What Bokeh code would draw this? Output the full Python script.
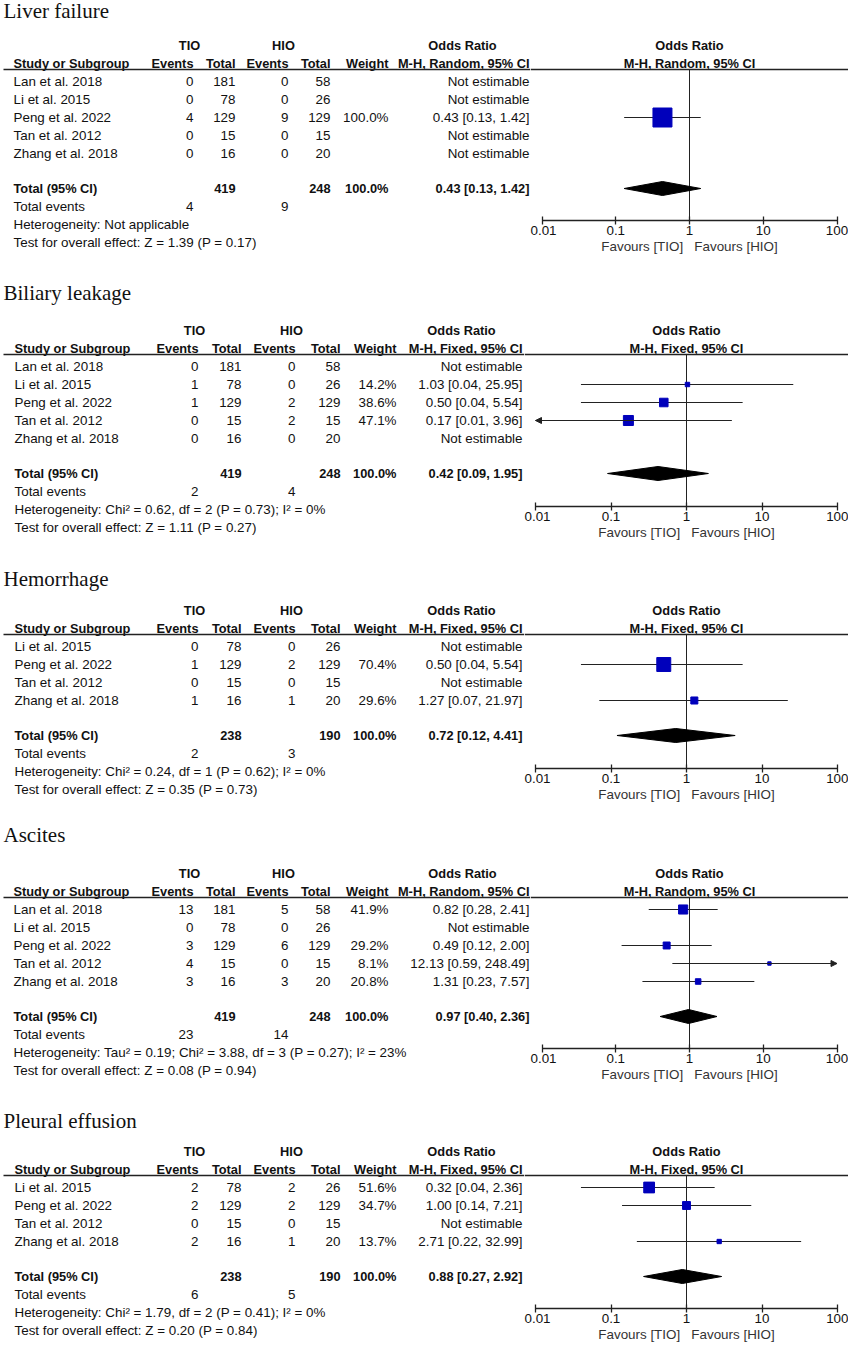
from bokeh.plotting import figure
from bokeh.models import Range1d, FixedTicker, CustomJSTickFormatter, Arrow, NormalHead
from bokeh.layouts import column, row
from bokeh.embed import file_html
from bokeh.resources import INLINE
from bokeh.core.properties import value

# ---------------- data ----------------
LF_TITLE = "Liver failure"
LF_METHOD = "M-H, Random, 95% CI"
LF_STUDIES = ["Lan et al. 2018", "Li et al. 2015", "Peng et al. 2022", "Tan et al. 2012", "Zhang et al. 2018"]
LF_TIO_EVENTS = [0, 0, 4, 0, 0]
LF_TIO_TOTAL = [181, 78, 129, 15, 16]
LF_HIO_EVENTS = [0, 0, 9, 0, 0]
LF_HIO_TOTAL = [58, 26, 129, 15, 20]
LF_WEIGHT = [None, None, 100.0, None, None]
LF_OR = [None, None, 0.43, None, None]
LF_LO = [None, None, 0.13, None, None]
LF_HI = [None, None, 1.42, None, None]
LF_SUM_TOTAL = [419, 248]
LF_SUM_EVENTS = [4, 9]
LF_POOLED = [0.43, 0.13, 1.42]
LF_HET = "Heterogeneity: Not applicable"
LF_TEST = "Test for overall effect: Z = 1.39 (P = 0.17)"

BL_TITLE = "Biliary leakage"
BL_METHOD = "M-H, Fixed, 95% CI"
BL_STUDIES = ["Lan et al. 2018", "Li et al. 2015", "Peng et al. 2022", "Tan et al. 2012", "Zhang et al. 2018"]
BL_TIO_EVENTS = [0, 1, 1, 0, 0]
BL_TIO_TOTAL = [181, 78, 129, 15, 16]
BL_HIO_EVENTS = [0, 0, 2, 2, 0]
BL_HIO_TOTAL = [58, 26, 129, 15, 20]
BL_WEIGHT = [None, 14.2, 38.6, 47.1, None]
BL_OR = [None, 1.03, 0.50, 0.17, None]
BL_LO = [None, 0.04, 0.04, 0.01, None]
BL_HI = [None, 25.95, 5.54, 3.96, None]
BL_SUM_TOTAL = [419, 248]
BL_SUM_EVENTS = [2, 4]
BL_POOLED = [0.42, 0.09, 1.95]
BL_HET = "Heterogeneity: Chi\u00b2 = 0.62, df = 2 (P = 0.73); I\u00b2 = 0%"
BL_TEST = "Test for overall effect: Z = 1.11 (P = 0.27)"

HM_TITLE = "Hemorrhage"
HM_METHOD = "M-H, Fixed, 95% CI"
HM_STUDIES = ["Li et al. 2015", "Peng et al. 2022", "Tan et al. 2012", "Zhang et al. 2018"]
HM_TIO_EVENTS = [0, 1, 0, 1]
HM_TIO_TOTAL = [78, 129, 15, 16]
HM_HIO_EVENTS = [0, 2, 0, 1]
HM_HIO_TOTAL = [26, 129, 15, 20]
HM_WEIGHT = [None, 70.4, None, 29.6]
HM_OR = [None, 0.50, None, 1.27]
HM_LO = [None, 0.04, None, 0.07]
HM_HI = [None, 5.54, None, 21.97]
HM_SUM_TOTAL = [238, 190]
HM_SUM_EVENTS = [2, 3]
HM_POOLED = [0.72, 0.12, 4.41]
HM_HET = "Heterogeneity: Chi\u00b2 = 0.24, df = 1 (P = 0.62); I\u00b2 = 0%"
HM_TEST = "Test for overall effect: Z = 0.35 (P = 0.73)"

AS_TITLE = "Ascites"
AS_METHOD = "M-H, Random, 95% CI"
AS_STUDIES = ["Lan et al. 2018", "Li et al. 2015", "Peng et al. 2022", "Tan et al. 2012", "Zhang et al. 2018"]
AS_TIO_EVENTS = [13, 0, 3, 4, 3]
AS_TIO_TOTAL = [181, 78, 129, 15, 16]
AS_HIO_EVENTS = [5, 0, 6, 0, 3]
AS_HIO_TOTAL = [58, 26, 129, 15, 20]
AS_WEIGHT = [41.9, None, 29.2, 8.1, 20.8]
AS_OR = [0.82, None, 0.49, 12.13, 1.31]
AS_LO = [0.28, None, 0.12, 0.59, 0.23]
AS_HI = [2.41, None, 2.00, 248.49, 7.57]
AS_SUM_TOTAL = [419, 248]
AS_SUM_EVENTS = [23, 14]
AS_POOLED = [0.97, 0.40, 2.36]
AS_HET = "Heterogeneity: Tau\u00b2 = 0.19; Chi\u00b2 = 3.88, df = 3 (P = 0.27); I\u00b2 = 23%"
AS_TEST = "Test for overall effect: Z = 0.08 (P = 0.94)"

PE_TITLE = "Pleural effusion"
PE_METHOD = "M-H, Fixed, 95% CI"
PE_STUDIES = ["Li et al. 2015", "Peng et al. 2022", "Tan et al. 2012", "Zhang et al. 2018"]
PE_TIO_EVENTS = [2, 2, 0, 2]
PE_TIO_TOTAL = [78, 129, 15, 16]
PE_HIO_EVENTS = [2, 2, 0, 1]
PE_HIO_TOTAL = [26, 129, 15, 20]
PE_WEIGHT = [51.6, 34.7, None, 13.7]
PE_OR = [0.32, 1.00, None, 2.71]
PE_LO = [0.04, 0.14, None, 0.22]
PE_HI = [2.36, 7.21, None, 32.99]
PE_SUM_TOTAL = [238, 190]
PE_SUM_EVENTS = [6, 5]
PE_POOLED = [0.88, 0.27, 2.92]
PE_HET = "Heterogeneity: Chi\u00b2 = 1.79, df = 2 (P = 0.41); I\u00b2 = 0%"
PE_TEST = "Test for overall effect: Z = 0.20 (P = 0.84)"

AXIS_TICKS = [0.01, 0.1, 1, 10, 100]
GROUP_1 = "TIO"
GROUP_2 = "HIO"
FAVOURS = "Favours [TIO]\u00a0\u00a0\u00a0Favours [HIO]"

PANELS = [
    dict(title=LF_TITLE, method=LF_METHOD, studies=LF_STUDIES, e1=LF_TIO_EVENTS, n1=LF_TIO_TOTAL,
         e2=LF_HIO_EVENTS, n2=LF_HIO_TOTAL, w=LF_WEIGHT, orr=LF_OR, lo=LF_LO, hi=LF_HI,
         tot=LF_SUM_TOTAL, ev=LF_SUM_EVENTS, pooled=LF_POOLED, het=LF_HET, test=LF_TEST, layout="random"),
    dict(title=BL_TITLE, method=BL_METHOD, studies=BL_STUDIES, e1=BL_TIO_EVENTS, n1=BL_TIO_TOTAL,
         e2=BL_HIO_EVENTS, n2=BL_HIO_TOTAL, w=BL_WEIGHT, orr=BL_OR, lo=BL_LO, hi=BL_HI,
         tot=BL_SUM_TOTAL, ev=BL_SUM_EVENTS, pooled=BL_POOLED, het=BL_HET, test=BL_TEST, layout="fixed"),
    dict(title=HM_TITLE, method=HM_METHOD, studies=HM_STUDIES, e1=HM_TIO_EVENTS, n1=HM_TIO_TOTAL,
         e2=HM_HIO_EVENTS, n2=HM_HIO_TOTAL, w=HM_WEIGHT, orr=HM_OR, lo=HM_LO, hi=HM_HI,
         tot=HM_SUM_TOTAL, ev=HM_SUM_EVENTS, pooled=HM_POOLED, het=HM_HET, test=HM_TEST, layout="fixed"),
    dict(title=AS_TITLE, method=AS_METHOD, studies=AS_STUDIES, e1=AS_TIO_EVENTS, n1=AS_TIO_TOTAL,
         e2=AS_HIO_EVENTS, n2=AS_HIO_TOTAL, w=AS_WEIGHT, orr=AS_OR, lo=AS_LO, hi=AS_HI,
         tot=AS_SUM_TOTAL, ev=AS_SUM_EVENTS, pooled=AS_POOLED, het=AS_HET, test=AS_TEST, layout="random"),
    dict(title=PE_TITLE, method=PE_METHOD, studies=PE_STUDIES, e1=PE_TIO_EVENTS, n1=PE_TIO_TOTAL,
         e2=PE_HIO_EVENTS, n2=PE_HIO_TOTAL, w=PE_WEIGHT, orr=PE_OR, lo=PE_LO, hi=PE_HI,
         tot=PE_SUM_TOTAL, ev=PE_SUM_EVENTS, pooled=PE_POOLED, het=PE_HET, test=PE_TEST, layout="fixed"),
]

# ---------------- layout (page pixel space) ----------------
LAYOUTS = {
    "random": dict(name=13, ev1=193, tot1=235, ev2=288, tot2=330, wt=388, orc=529,
                   tio=189, hio=283, orh=462, split=530, one=689, dec=73.75),
    "fixed": dict(name=14, ev1=198, tot1=241, ev2=295, tot2=340, wt=396, orc=522,
                  tio=194, hio=291, orh=461, split=524, one=686, dec=75.5),
}
PANEL_T = [10, 295, 575, 838, 1116]
TITLE_Y = [10, 292, 578, 834, 1120]
BOUNDS = [0, 280, 562, 818, 1104, 1350]
X0 = 3

FONT_NAME = "Liberation Sans"
FONT = value(FONT_NAME)
SERIF = value("Liberation Serif")
FS = "13.4px"
FS_BOLD = "12.8px"
TXT = "#111111"
LINE = "#222222"
BLUE = "#0000bb"


def fmt_or(o, l, h):
    return f"{o:.2f} [{l:.2f}, {h:.2f}]"


def build_panel(i, P):
    L = LAYOUTS[P["layout"]]
    B0, B1 = BOUNDS[i], BOUNDS[i + 1]
    H = B1 - B0
    split = L["split"]
    right = 2 * L["one"] - split          # forest frame symmetric about OR = 1
    wt, wf = split, right - split

    T = PANEL_T[i]
    n = len(P["studies"])
    line_y = T + 59
    rows_y = [T + 71 + 18 * k for k in range(n)]
    total_y = rows_y[-1] + 35
    ev_y = total_y + 18
    het_y = ev_y + 17.5
    test_y = het_y + 18
    axis_y = int(round(het_y - 3))
    border_b = int(B1 - axis_y)

    base = dict(height=H, toolbar_location=None, output_backend="svg", y_axis_location=None,
                min_border_left=0, min_border_right=0, min_border_top=0,
                outline_line_color=None, background_fill_color="white",
                border_fill_color="white")

    # ---------- table figure (frame = whole panel) ----------
    t = figure(width=wt, x_range=Range1d(0, split), y_range=Range1d(B1, B0),
               x_axis_location=None, min_border_bottom=0, **base)
    t.grid.visible = False

    def txt(fig, xs, ys, texts, align, bold=False, font=FONT, size=None):
        if not texts:
            return
        if size is None:
            size = FS_BOLD if bold else FS
        fig.text(x=xs, y=ys, text=texts, text_align=align, text_baseline="middle",
                 text_font=font, text_font_size=size,
                 text_font_style="bold" if bold else "normal", text_color=TXT)

    txt(t, [X0], [TITLE_Y[i]], [P["title"]], "left", font=SERIF, size="21px")
    hy1, hy2 = T + 35, T + 53
    txt(t, [L["tio"], L["hio"], L["orh"]], [hy1] * 3, [GROUP_1, GROUP_2, "Odds Ratio"], "center", bold=True)
    txt(t, [L["name"]], [hy2], ["Study or Subgroup"], "left", bold=True)
    txt(t, [L["ev1"], L["tot1"], L["ev2"], L["tot2"], L["wt"], L["orc"]], [hy2] * 6,
        ["Events", "Total", "Events", "Total", "Weight", P["method"]], "right", bold=True)
    t.segment(x0=[X0], y0=[line_y], x1=[split], y1=[line_y], line_color=LINE, line_width=1.6)

    lx, ly, lt = [], [], []
    rx, ry, rt = [], [], []
    for k in range(n):
        y = rows_y[k]
        lx.append(L["name"]); ly.append(y); lt.append(P["studies"][k])
        for col, key in (("ev1", "e1"), ("tot1", "n1"), ("ev2", "e2"), ("tot2", "n2")):
            rx.append(L[col]); ry.append(y); rt.append(str(P[key][k]))
        if P["w"][k] is not None:
            rx.append(L["wt"]); ry.append(y); rt.append(f"{P['w'][k]:.1f}%")
        if P["orr"][k] is None:
            rx.append(L["orc"]); ry.append(y); rt.append("Not estimable")
        else:
            rx.append(L["orc"]); ry.append(y); rt.append(fmt_or(P["orr"][k], P["lo"][k], P["hi"][k]))
    lx += [L["name"]] * 3; ly += [ev_y, het_y, test_y]; lt += ["Total events", P["het"], P["test"]]
    rx += [L["ev1"], L["ev2"]]; ry += [ev_y, ev_y]; rt += [str(P["ev"][0]), str(P["ev"][1])]
    txt(t, lx, ly, lt, "left")
    txt(t, rx, ry, rt, "right")
    txt(t, [L["name"]], [total_y], ["Total (95% CI)"], "left", bold=True)
    pooled = P["pooled"]
    txt(t, [L["tot1"], L["tot2"], L["wt"], L["orc"]], [total_y] * 4,
        [str(P["tot"][0]), str(P["tot"][1]), "100.0%", fmt_or(*pooled)], "right", bold=True)

    # ---------- forest figure (frame ends at the axis) ----------
    one, dec = L["one"], L["dec"]
    xs = 10 ** ((split - one) / dec)
    xe = 10 ** ((right - one) / dec)
    f = figure(width=wf, x_axis_type="log", x_range=Range1d(xs, xe), y_range=Range1d(axis_y, B0),
               min_border_bottom=border_b, **base)
    f.grid.visible = False

    txt(f, [1, 1], [hy1, hy2], ["Odds Ratio", P["method"]], "center", bold=True)
    f.segment(x0=[xs], y0=[line_y], x1=[xe], y1=[line_y], line_color=LINE, line_width=1.6)
    f.segment(x0=[1], y0=[line_y], x1=[1], y1=[axis_y], line_color=LINE, line_width=1)

    sx0, sx1, sy, px, py, psz = [], [], [], [], [], []
    lo_lim, hi_lim = AXIS_TICKS[0], AXIS_TICKS[-1]
    for k in range(n):
        o = P["orr"][k]
        if o is None:
            continue
        lo, hi, y = P["lo"][k], P["hi"][k], rows_y[k]
        a, b = max(lo, lo_lim), min(hi, hi_lim)
        sx0.append(a); sx1.append(b); sy.append(y)
        px.append(o); py.append(y); psz.append(2 + 0.17 * P["w"][k])
        if lo <= lo_lim:
            f.add_layout(Arrow(end=NormalHead(size=6, fill_color=LINE, line_color=LINE, line_width=1),
                               x_start=b, y_start=y, x_end=a, y_end=y, line_color=LINE, line_width=1.2))
        if hi >= hi_lim:
            f.add_layout(Arrow(end=NormalHead(size=6, fill_color=LINE, line_color=LINE, line_width=1),
                               x_start=a, y_start=y, x_end=b, y_end=y, line_color=LINE, line_width=1.2))
    f.segment(x0=sx0, y0=sy, x1=sx1, y1=sy, line_color=LINE, line_width=1.2)
    f.scatter(x=px, y=py, size=psz, marker="square", fill_color=BLUE, line_color=BLUE)

    est, plo, phi = pooled
    f.patch(x=[plo, est, phi, est], y=[total_y, total_y - 7, total_y, total_y + 7],
            fill_color="black", line_color="black", line_width=1)

    ax = f.xaxis[0]
    ax.ticker = FixedTicker(ticks=AXIS_TICKS, minor_ticks=[])
    ax.formatter = CustomJSTickFormatter(code="return tick.toString();")
    ax.bounds = (lo_lim, hi_lim)
    ax.axis_line_color = LINE
    ax.axis_line_width = 1.3
    ax.major_tick_line_color = LINE
    ax.major_tick_line_width = 1.3
    ax.major_tick_in = 4
    ax.major_tick_out = 4
    ax.minor_tick_line_color = None
    ax.major_label_standoff = 1
    ax.major_label_text_font = FONT_NAME
    ax.major_label_text_font_size = FS
    ax.major_label_text_color = TXT
    ax.axis_label = FAVOURS
    ax.axis_label_standoff = 1
    ax.axis_label_text_font = FONT_NAME
    ax.axis_label_text_font_size = FS
    ax.axis_label_text_font_style = "normal"
    ax.axis_label_text_color = "#333333"

    # the table sits in its own column so its frame is not aligned with the forest frame
    return row(column(t, spacing=0), f, spacing=0)


layout = column(*[build_panel(i, P) for i, P in enumerate(PANELS)], spacing=0)
open("out.html", "w").write(file_html(layout, INLINE))
